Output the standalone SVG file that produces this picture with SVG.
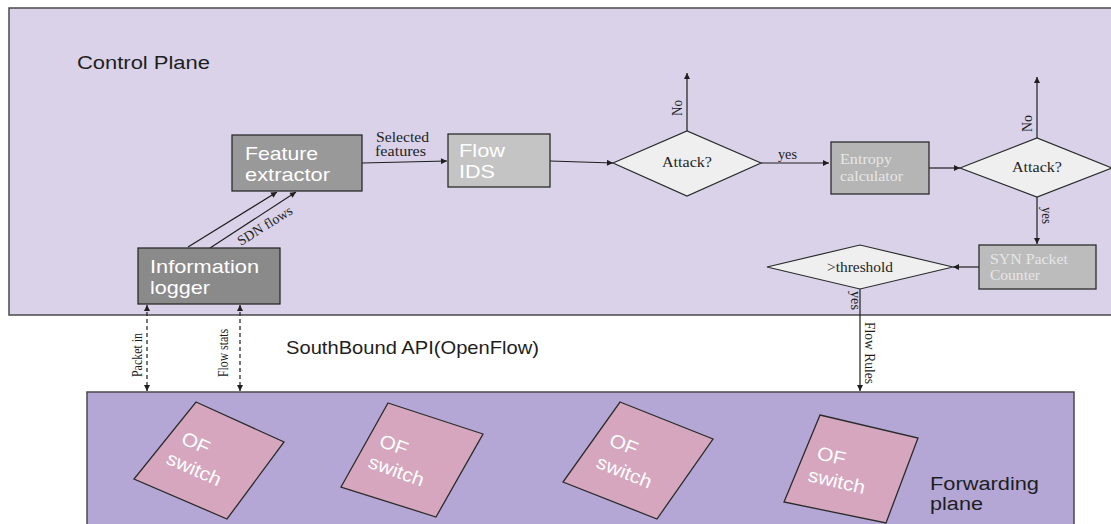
<svg xmlns="http://www.w3.org/2000/svg" width="1111" height="524" viewBox="0 0 1111 524">
  <style>
    .sans { font-family: "Liberation Sans", Arial, sans-serif; }
    .serif { font-family: "Liberation Serif", "Times New Roman", serif; }
    .box { stroke: #2b2b2b; stroke-width: 1.3; }
    .boxtxt { fill: #ffffff; font-size: 19px; }
    .boxtxt2 { fill: #e6e6e6; font-size: 14px; }
    .dia { fill: #efefef; stroke: #2b2b2b; stroke-width: 1.2; }
    .lbl { fill: #1e1e1e; font-size: 14px; }
    .plane { stroke: #4a4a4a; stroke-width: 1.5; }
    .sw { fill: #d5a6bd; stroke: #2b2b2b; stroke-width: 1.3; }
    .swtxt { fill: #ffffff; font-size: 19px; }
    .ln { stroke: #1e1e1e; stroke-width: 1.2; fill: none; }
    .dash { stroke-dasharray: 4 3; }
  </style>
  <defs>
    <marker id="arrow" viewBox="0 0 10 10" refX="10" refY="5" markerWidth="7" markerHeight="6" markerUnits="userSpaceOnUse" orient="auto-start-reverse">
      <path d="M0,0 L10,5 L0,10 z" fill="#1e1e1e"/>
    </marker>
  </defs>

  <rect width="1111" height="524" fill="#ffffff"/>

  <!-- control plane -->
  <g id="control-plane">
    <rect class="plane" x="9" y="8" width="1112" height="307" fill="#d9d2e9"/>
    <text class="sans" x="77" y="69" font-size="18" textLength="133" lengthAdjust="spacingAndGlyphs" fill="#1e1e1e">Control Plane</text>
  </g>

  <!-- forwarding plane -->
  <g id="forwarding-plane">
    <rect class="plane" x="87" y="392" width="987" height="140" fill="#b4a7d6"/>
    <text class="sans" font-size="18" fill="#1e1e1e">
      <tspan x="930" y="490" textLength="109" lengthAdjust="spacingAndGlyphs">Forwarding</tspan>
      <tspan x="930" y="510" textLength="53" lengthAdjust="spacingAndGlyphs">plane</tspan>
    </text>
  </g>

  <text id="southbound" class="sans" x="286" y="354" font-size="19" textLength="253" lengthAdjust="spacingAndGlyphs" fill="#1e1e1e">SouthBound API(OpenFlow)</text>

  <!-- connectors -->
  <g id="connectors">
    <line class="ln" x1="188" y1="247" x2="277" y2="192" marker-end="url(#arrow)"/>
    <line class="ln" x1="210" y1="248" x2="296" y2="192" marker-end="url(#arrow)"/>
    <text class="serif lbl" transform="translate(241,246) rotate(-32)" textLength="62" lengthAdjust="spacingAndGlyphs">SDN flows</text>

    <line class="ln" x1="362" y1="163" x2="447" y2="161" marker-end="url(#arrow)"/>
    <text class="serif lbl">
      <tspan x="376" y="142" textLength="53" lengthAdjust="spacingAndGlyphs">Selected</tspan>
      <tspan x="375" y="156" textLength="51" lengthAdjust="spacingAndGlyphs">features</tspan>
    </text>

    <line class="ln" x1="550" y1="161" x2="613" y2="163" marker-end="url(#arrow)"/>

    <line class="ln" x1="687" y1="131" x2="687" y2="73" marker-end="url(#arrow)"/>
    <text class="serif lbl" transform="translate(682,116) rotate(-90)" textLength="16" lengthAdjust="spacingAndGlyphs">No</text>

    <line class="ln" x1="761" y1="163" x2="829" y2="163" marker-end="url(#arrow)"/>
    <text class="serif lbl" x="778" y="159" textLength="19" lengthAdjust="spacingAndGlyphs">yes</text>

    <line class="ln" x1="929" y1="168" x2="960" y2="168" marker-end="url(#arrow)"/>

    <line class="ln" x1="1037" y1="138" x2="1037" y2="77" marker-end="url(#arrow)"/>
    <text class="serif lbl" transform="translate(1032,132) rotate(-90)" textLength="17" lengthAdjust="spacingAndGlyphs">No</text>

    <line class="ln" x1="1037" y1="197" x2="1037" y2="244" marker-end="url(#arrow)"/>
    <text class="serif lbl" transform="translate(1042,207) rotate(90)" textLength="17" lengthAdjust="spacingAndGlyphs">yes</text>

    <line class="ln" x1="979" y1="267" x2="953" y2="267" marker-end="url(#arrow)"/>

    <line class="ln" x1="860" y1="289" x2="860" y2="391" marker-end="url(#arrow)"/>
    <text class="serif lbl" transform="translate(851,291) rotate(90)" textLength="19" lengthAdjust="spacingAndGlyphs">yes</text>
    <text class="serif lbl" transform="translate(865,322) rotate(90)" textLength="62" lengthAdjust="spacingAndGlyphs">Flow Rules</text>

    <line class="ln dash" x1="147" y1="305" x2="147" y2="391" marker-start="url(#arrow)" marker-end="url(#arrow)"/>
    <text class="serif lbl" transform="translate(142,377) rotate(-90)" textLength="44" lengthAdjust="spacingAndGlyphs">Packet in</text>
    <line class="ln dash" x1="240" y1="305" x2="240" y2="391" marker-start="url(#arrow)" marker-end="url(#arrow)"/>
    <text class="serif lbl" transform="translate(228,377) rotate(-90)" textLength="48" lengthAdjust="spacingAndGlyphs">Flow stats</text>
  </g>

  <!-- nodes -->
  <g id="feature-extractor">
    <rect class="box" x="232" y="135" width="130" height="56" fill="#999999"/>
    <text class="sans boxtxt">
      <tspan x="245" y="160" textLength="73" lengthAdjust="spacingAndGlyphs">Feature</tspan>
      <tspan x="245" y="181" textLength="85" lengthAdjust="spacingAndGlyphs">extractor</tspan>
    </text>
  </g>

  <g id="information-logger">
    <rect class="box" x="138" y="248" width="142" height="56" fill="#8a8a8a"/>
    <text class="sans boxtxt">
      <tspan x="150" y="273" textLength="109" lengthAdjust="spacingAndGlyphs">Information</tspan>
      <tspan x="150" y="294" textLength="60" lengthAdjust="spacingAndGlyphs">logger</tspan>
    </text>
  </g>

  <g id="flow-ids">
    <rect class="box" x="448" y="134" width="102" height="53" fill="#c4c4c4"/>
    <text class="sans boxtxt">
      <tspan x="459" y="157" textLength="46" lengthAdjust="spacingAndGlyphs">Flow</tspan>
      <tspan x="459" y="178" textLength="36" lengthAdjust="spacingAndGlyphs">IDS</tspan>
    </text>
  </g>

  <g id="attack-1">
    <polygon class="dia" points="613,163 687,131 761,163 687,196"/>
    <text class="serif lbl" x="687" y="167" text-anchor="middle" textLength="50" lengthAdjust="spacingAndGlyphs">Attack?</text>
  </g>

  <g id="entropy-calculator">
    <rect class="box" x="831" y="142" width="98" height="52" fill="#b5b5b5"/>
    <text class="serif boxtxt2">
      <tspan x="840" y="164" textLength="52" lengthAdjust="spacingAndGlyphs">Entropy</tspan>
      <tspan x="840" y="181" textLength="63" lengthAdjust="spacingAndGlyphs">calculator</tspan>
    </text>
  </g>

  <g id="attack-2">
    <polygon class="dia" points="960,168 1037,138 1112,168 1037,197"/>
    <text class="serif lbl" x="1037" y="172" text-anchor="middle" textLength="50" lengthAdjust="spacingAndGlyphs">Attack?</text>
  </g>

  <g id="syn-counter">
    <rect class="box" x="979" y="245" width="117" height="44" fill="#bcbcbc"/>
    <text class="serif boxtxt2">
      <tspan x="990" y="264" textLength="78" lengthAdjust="spacingAndGlyphs">SYN Packet</tspan>
      <tspan x="990" y="280" textLength="50" lengthAdjust="spacingAndGlyphs">Counter</tspan>
    </text>
  </g>

  <g id="threshold">
    <polygon class="dia" points="767,267 860,245 953,267 860,289"/>
    <text class="serif lbl" x="860" y="272" text-anchor="middle" textLength="66" lengthAdjust="spacingAndGlyphs">&gt;threshold</text>
  </g>

  <!-- OpenFlow switches -->
  <g id="switch-1">
    <polygon class="sw" points="196,402 284,442 227,519 134,479"/>
    <text class="sans swtxt" transform="translate(180,443) rotate(24)" textLength="29" lengthAdjust="spacingAndGlyphs">OF</text>
    <text class="sans swtxt" transform="translate(165,463) rotate(24)" textLength="58" lengthAdjust="spacingAndGlyphs">switch</text>
  </g>
  <g id="switch-2">
    <polygon class="sw" points="388,403 483,434 436,517 341,487"/>
    <text class="sans swtxt" transform="translate(378,446) rotate(20)" textLength="29" lengthAdjust="spacingAndGlyphs">OF</text>
    <text class="sans swtxt" transform="translate(367,467) rotate(20)" textLength="58" lengthAdjust="spacingAndGlyphs">switch</text>
  </g>
  <g id="switch-3">
    <polygon class="sw" points="620,402 713,439 657,519 563,482"/>
    <text class="sans swtxt" transform="translate(608,445) rotate(22)" textLength="29" lengthAdjust="spacingAndGlyphs">OF</text>
    <text class="sans swtxt" transform="translate(595,467) rotate(22)" textLength="58" lengthAdjust="spacingAndGlyphs">switch</text>
  </g>
  <g id="switch-4">
    <polygon class="sw" points="820,415 918,438 886,523 784,502"/>
    <text class="sans swtxt" transform="translate(816,459) rotate(13)" textLength="29" lengthAdjust="spacingAndGlyphs">OF</text>
    <text class="sans swtxt" transform="translate(807,481) rotate(13)" textLength="58" lengthAdjust="spacingAndGlyphs">switch</text>
  </g>
</svg>
